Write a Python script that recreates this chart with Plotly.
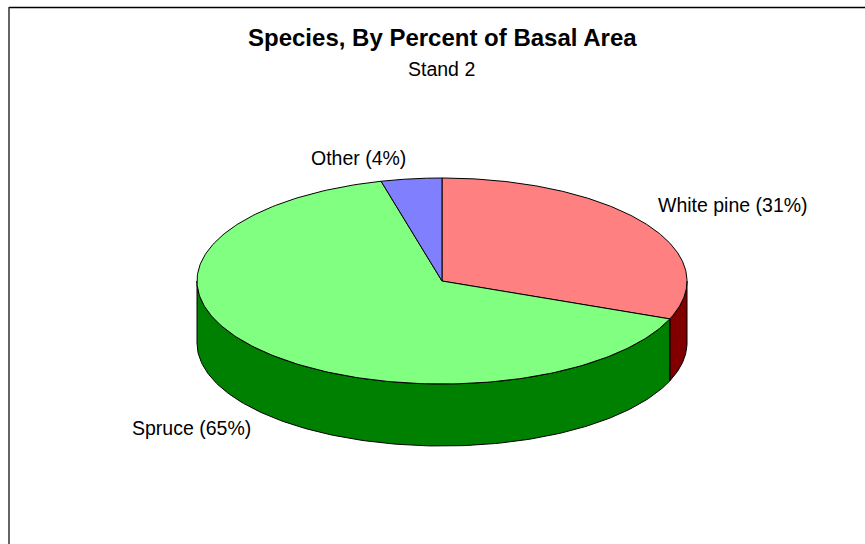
import numpy as np
import plotly.graph_objects as go

labels = ["White pine", "Spruce", "Other"]
shares = [31, 65, 4]
top_colors = ["#ff8080", "#80ff80", "#8080ff"]
side_colors = ["#800000", "#008000", "#000080"]
label_x = [733, 191, 358.5]
label_y = [205, 428, 158]

CX, CY, RX, RY, DEPTH = 442, 281, 245, 103, 62
W, H = 865, 544


def ell(t, dy=0):
    # t = clockwise angle from the top, degrees
    r = np.radians(t)
    return CX + RX * np.sin(r), CY - RY * np.cos(r) + dy


fig = go.Figure()

# slice angles from the values
edges = np.concatenate([[0], np.cumsum(shares)]) * 3.6

# side walls (only the front half, clockwise angle 90..270 is visible)
for i in range(len(shares)):
    a, b = max(edges[i], 90), min(edges[i + 1], 270)
    if b <= a:
        continue
    t = np.linspace(a, b, 160)
    x1, y1 = ell(t)
    x2, y2 = ell(t[::-1], DEPTH)
    fig.add_trace(go.Scatter(
        x=np.r_[x1, x2, x1[0]], y=np.r_[y1, y2, y1[0]], mode="lines",
        fill="toself", fillcolor=side_colors[i],
        line=dict(color="#000000", width=1), hoverinfo="skip", showlegend=False))

# top faces
for i in range(len(shares)):
    t = np.linspace(edges[i], edges[i + 1], 240)
    x, y = ell(t)
    fig.add_trace(go.Scatter(
        x=np.r_[CX, x, CX], y=np.r_[CY, y, CY], mode="lines",
        fill="toself", fillcolor=top_colors[i],
        line=dict(color="#000000", width=1), name=labels[i],
        hoverinfo="skip", showlegend=False))

annotations = [
    dict(x=label_x[i], y=label_y[i], text=f"{labels[i]} ({shares[i]}%)",
         showarrow=False, xref="x", yref="y", xanchor="center", yanchor="middle",
         font=dict(family="Liberation Sans", size=19.5, color="#000000"))
    for i in range(len(shares))
]
annotations += [
    dict(x=CX, y=37, text="<b>Species, By Percent of Basal Area</b>", showarrow=False,
         xref="x", yref="y", xanchor="center", yanchor="middle",
         font=dict(family="Liberation Sans", size=24, color="#000000")),
    dict(x=441, y=69, text="Stand 2", showarrow=False,
         xref="x", yref="y", xanchor="center", yanchor="middle",
         font=dict(family="Liberation Sans", size=19.5, color="#000000")),
]

fig.update_layout(
    width=W, height=H, margin=dict(l=0, r=0, t=0, b=0, pad=0),
    paper_bgcolor="#ffffff", plot_bgcolor="#ffffff",
    xaxis=dict(range=[0, W], visible=False, fixedrange=True),
    yaxis=dict(range=[H, 0], visible=False, fixedrange=True),
    annotations=annotations,
    shapes=[
        dict(type="line", xref="x", yref="y", x0=9, y0=7.5, x1=W, y1=7.5,
             line=dict(color="#000000", width=1.5)),
        dict(type="line", xref="x", yref="y", x0=9, y0=7, x1=9, y1=H,
             line=dict(color="#303030", width=1.5)),
    ],
)

fig.write_html("out.html", config=dict(displayModeBar=False),
               post_script="document.body.style.margin='0';document.documentElement.style.overflow='hidden';")
